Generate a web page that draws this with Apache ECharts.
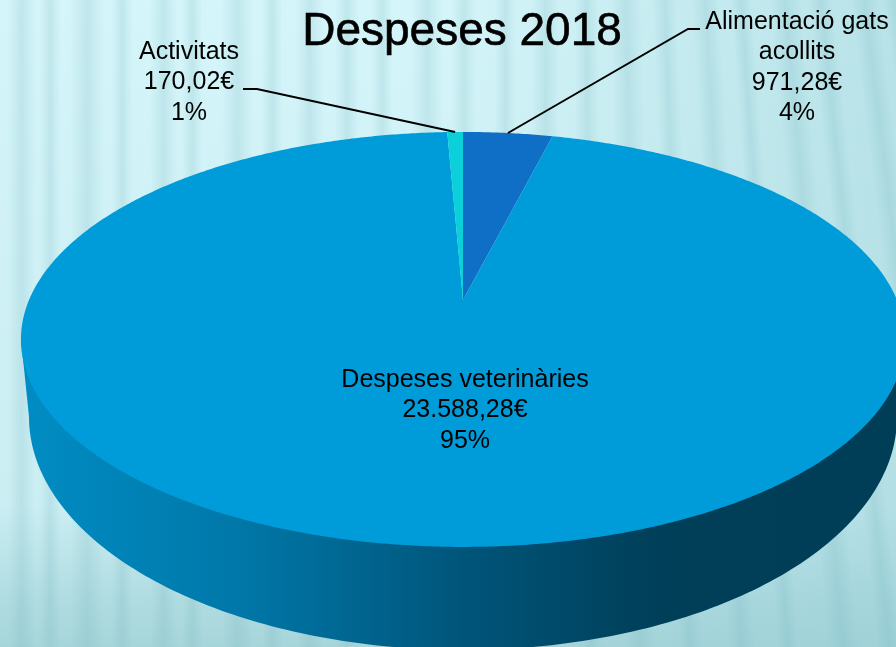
<!DOCTYPE html>
<html><head><meta charset="utf-8">
<style>html,body{margin:0;padding:0;background:#c8eef2}#c{width:896px;height:647px}</style>
<script src="https://cdn.jsdelivr.net/npm/echarts@6/dist/echarts.min.js"></script>
</head><body><div id="c"></div>
<script>
const titleText = 'Despeses 2018';
const categories = ['Alimentació gats\nacollits', 'Despeses veterinàries', 'Activitats'];
const values = [971.28, 23588.28, 170.02];
const colors = ['#0F6FC6', '#009BD9', '#0BD0D9'];

// layout only
const labelPos = [[797, 22], [465, 380], [189, 52]];
const leaderElbows = [[[700, 29], [688, 29]], null, [[243, 89], [257, 89]]];
const P = {cx: 463, cy: 300, a: 200, b: 434, k: 0.19};
const LOWER = {cx: 463, cy: 417, rx: 434, ry: 233};
const stripeX = [8, 40, 70, 112, 150, 182, 222, 262, 296, 335, 372, 412, 452, 495, 532, 575, 612, 655, 695, 735, 775, 815, 858, 892];
const stripeW = [16, 12, 20, 12, 16, 12, 18, 12, 16, 14, 12, 18, 14, 12, 16, 14, 18, 14, 16, 12, 18, 14, 16, 12];

const total = values.reduce((s, v) => s + v, 0);
const proj = t => { const u = Math.sin(t), v = -Math.cos(t), w = 1 - P.k * v;
  return [P.cx + P.b * u / w, P.cy + P.a * v / w]; };
const angles = []; { let acc = 0; values.forEach(v => { angles.push([acc / total * 2 * Math.PI, (acc + v) / total * 2 * Math.PI]); acc += v; }); }
const money = v => { const [i, d] = v.toFixed(2).split('.'); return i.replace(/\B(?=(\d{3})+$)/g, '.') + ',' + d + '€'; };

const stripes = stripeX.map((x, i) => {
  const lean = x > 560 ? (x - 560) / 336 * 0.14 : 0;
  return {type: 'rect', x: x, y: -60, originX: 0, originY: 120, rotation: lean, silent: true, z: -10,
    shape: {x: 0, y: 0, width: stripeW[i] * 1.7, height: 1000},
    style: {fill: new echarts.graphic.LinearGradient(0, 0, 1, 0, [
      {offset: 0, color: 'rgba(110,175,185,0)'},
      {offset: .5, color: 'rgba(110,175,185,0.20)'},
      {offset: 1, color: 'rgba(110,175,185,0)'}])}};
});
const shade = {type: 'rect', x: 0, y: 0, silent: true, z: -11, shape: {x: 0, y: 0, width: 896, height: 647},
  style: {fill: new echarts.graphic.LinearGradient(0, 0, 1, 0, [
    {offset: 0, color: 'rgba(150,205,212,0)'}, {offset: .5, color: 'rgba(150,205,212,0)'}, {offset: 1, color: 'rgba(150,205,212,0.45)'}])}};

const wallPts = () => { const pts = [[P.cx - 442, 339.5]];
  for (let d = 180; d >= 0; d -= 1) { const r = d * Math.PI / 180; pts.push([LOWER.cx + LOWER.rx * Math.cos(r), LOWER.cy + LOWER.ry * Math.sin(r)]); }
  pts.push([P.cx + 442, 339.5]); return pts; };

const chart = echarts.init(document.getElementById('c'), null, {renderer: 'canvas'});
chart.setOption({
  animation: false,
  backgroundColor: new echarts.graphic.LinearGradient(0, 0, 0, 1, [
    {offset: 0, color: '#D4F5F9'}, {offset: .78, color: '#CBEEF3'}, {offset: .93, color: '#AFDCE1'}, {offset: 1, color: '#A6D5DA'}]),
  graphic: {elements: [shade].concat(stripes)},
  title: {text: titleText, left: 457, top: 4, textAlign: 'center',
    textStyle: {fontFamily: 'Liberation Sans', fontSize: 46, fontWeight: 'normal', color: '#000', textBorderColor: '#000', textBorderWidth: 0.6}},
  series: [
    {type: 'custom', coordinateSystem: 'none', z: 1, data: [0], silent: true,
      renderItem: () => ({type: 'polygon', shape: {points: wallPts()},
        style: {fill: new echarts.graphic.LinearGradient(21, 0, 905, 0, [
          {offset: 0, color: '#008DC4'}, {offset: .25, color: '#0077A8'}, {offset: .5, color: '#00557A'},
          {offset: .72, color: '#003F59'}, {offset: 1, color: '#003E57'}], true)}})},
    {type: 'custom', coordinateSystem: 'none', z: 2, silent: true, data: values,
      renderItem: (p, api) => { const i = p.dataIndex, [s, e] = angles[i];
        const pts = [[P.cx, P.cy]], n = Math.ceil((e - s) / 0.008);
        for (let q = 0; q <= n; q++) pts.push(proj(s + (e - s) * q / n));
        return {type: 'polygon', shape: {points: pts}, style: {fill: colors[i]}}; }},
    {type: 'custom', coordinateSystem: 'none', z: 3, silent: true, data: values,
      renderItem: (p, api) => { const i = p.dataIndex, kids = [];
        const v = api.value(0), pct = Math.round(v / total * 100);
        const [s, e] = angles[i];
        if (leaderElbows[i]) {
          kids.push({type: 'polyline', shape: {points: leaderElbows[i].concat([proj((s + e) / 2)])},
            style: {fill: null, stroke: '#000', lineWidth: 2}});
        }
        const txt = categories[i] + '\n' + money(v) + '\n' + pct + '%';
        kids.push({type: 'text', x: labelPos[i][0], y: labelPos[i][1] - 15,
          style: {text: txt, fontFamily: 'Liberation Sans', fontSize: 25, lineHeight: 30.3, align: 'center', verticalAlign: 'top', fill: '#000'}});
        return {type: 'group', children: kids}; }}
  ]
});
</script></body></html>
